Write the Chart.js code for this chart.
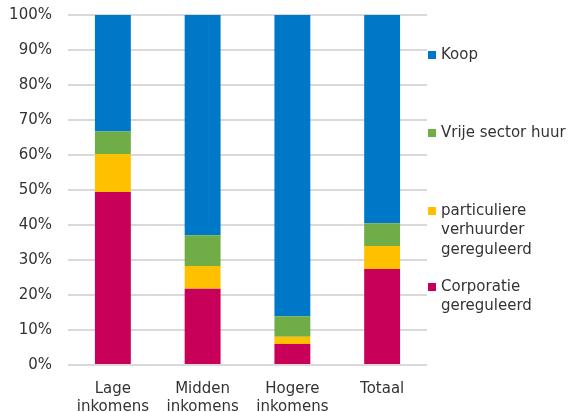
<!DOCTYPE html>
<html>
<head>
<meta charset="utf-8">
<script src="https://cdn.jsdelivr.net/npm/chart.js@4.4.1/dist/chart.umd.min.js"></script>
<style>
  html, body { margin: 0; padding: 0; background: #fff; }
  #wrap { position: relative; width: 578px; height: 412px; }
  #legend { position: absolute; left: 428px; top: 0; width: 150px; font-family: 'DejaVu Sans', sans-serif; font-size: 15px; color: #333; }
  .item { position: absolute; left: 0; white-space: pre; line-height: 19.3px; padding-left: 13px; }
  .item span.box { position: absolute; left: 0; top: 6px; width: 8px; height: 8px; }
</style>
</head>
<body>
<div id="wrap">
  <canvas id="c" width="578" height="412"></canvas>
  <div id="legend"></div>
</div>
<script>
// categorieën (x-as)
var categories = [['Lage', 'inkomens'], ['Midden', 'inkomens'], ['Hogere', 'inkomens'], ['Totaal']];

// aandelen in procenten, van onder naar boven gestapeld
var corporatie = [49.4, 21.8, 6.0, 27.4];
var particulier = [10.9, 6.5, 2.1, 6.6];
var vrijeSector = [6.4, 8.8, 5.8, 6.5];
var koop = [33.3, 62.9, 86.1, 59.5];

var seriesNames = ['Corporatie\ngereguleerd', 'particuliere\nverhuurder\ngereguleerd', 'Vrije sector huur', 'Koop'];
var seriesColors = ['#c8005a', '#ffc000', '#70ad47', '#0078c8'];

var yTicks = [0, 10, 20, 30, 40, 50, 60, 70, 80, 90, 100];

// legenda posities (top in px), van boven naar onder: Koop, Vrije, particulier, Corporatie
var legendTops = [45, 123, 201, 277];

var seriesData = [corporatie, particulier, vrijeSector, koop];

var datasets = seriesData.map(function (d, i) {
  return {
    label: seriesNames[i],
    data: d,
    backgroundColor: seriesColors[i],
    borderWidth: 0,
    barPercentage: 1,
    categoryPercentage: 0.4
  };
});

var FONT = { family: "'DejaVu Sans', sans-serif", size: 15 };

new Chart(document.getElementById('c').getContext('2d'), {
  type: 'bar',
  data: { labels: categories, datasets: datasets },
  options: {
    responsive: false,
    animation: false,
    layout: { padding: { top: 15, right: 151, bottom: 0, left: 0 } },
    plugins: { legend: { display: false }, tooltip: { enabled: false } },
    scales: {
      x: {
        stacked: true,
        grid: { display: false },
        border: { display: false },
        ticks: { font: FONT, color: '#333', padding: 7, maxRotation: 0 },
        afterFit: function (s) { s.height = 47; }
      },
      y: {
        stacked: true,
        min: 0,
        max: 100,
        afterBuildTicks: function (s) { s.ticks = yTicks.map(function (v) { return { value: v }; }); },
        grid: { color: '#d9d9d9', lineWidth: 2, drawTicks: false },
        border: { display: false },
        ticks: {
          font: FONT,
          color: '#333',
          padding: 16,
          callback: function (v) { return v + '%'; }
        },
        afterFit: function (s) {
          s.width = 68;
          s.paddingTop = 9;
          s.paddingBottom = 0;
        }
      }
    }
  }
});

// legenda (omgekeerde volgorde, Koop bovenaan)
var legend = document.getElementById('legend');
for (var k = 0; k < seriesNames.length; k++) {
  var i = seriesNames.length - 1 - k;
  var div = document.createElement('div');
  div.className = 'item';
  div.style.top = legendTops[k] + 'px';
  var box = document.createElement('span');
  box.className = 'box';
  box.style.background = seriesColors[i];
  div.appendChild(box);
  div.appendChild(document.createTextNode(seriesNames[i]));
  legend.appendChild(div);
}
</script>
</body>
</html>
